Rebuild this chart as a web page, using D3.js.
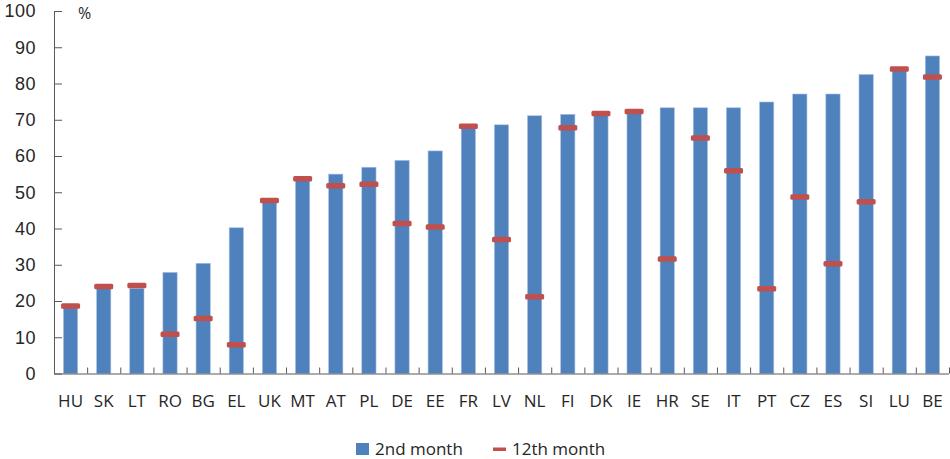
<!DOCTYPE html>
<html>
<head>
<meta charset="utf-8">
<script src="https://cdn.jsdelivr.net/npm/d3@7"></script>
<style>
  body { margin: 0; background: #fff; }
  text { font-family: "Open Sans", "Liberation Sans", Arial, sans-serif; fill: #262626; }
  text.ylab { font-family: "Liberation Sans", Arial, sans-serif; }
</style>
</head>
<body>
<svg id="chart"></svg>
<script>
// countries, sorted by 2nd month share
var countries = ["HU","SK","LT","RO","BG","EL","UK","MT","AT","PL","DE","EE","FR","LV","NL","FI","DK","IE","HR","SE","IT","PT","CZ","ES","SI","LU","BE"]
var month2  = [18.5,23.5,23.5,27.9,30.4,40.2,47.2,53.2,55.0,56.9,58.8,61.4,67.6,68.6,71.1,71.5,71.4,72.0,73.3,73.3,73.3,74.9,77.1,77.1,82.5,83.6,87.6]
var month12 = [18.6,24.0,24.3,10.8,15.2,7.9,47.7,53.7,51.8,52.2,41.4,40.4,68.2,37.0,21.2,67.8,71.7,72.3,31.6,65.0,55.9,23.4,48.7,30.3,47.4,84.0,81.8]
var yTicks = [0,10,20,30,40,50,60,70,80,90,100]
var legendLabels = ["2nd month", "12th month"]

var W = 950, H = 459
var margin = {top: 11, right: 1, bottom: 85.5, left: 54}
  , width = W - margin.left - margin.right
  , height = H - margin.top - margin.bottom

var svg = d3.select("#chart").attr("width", W).attr("height", H)
var g = svg.append("g").attr("transform", "translate(" + margin.left + "," + margin.top + ")")

var x = d3.scaleBand().domain(countries).range([0, width]).paddingInner(0.57).paddingOuter(0.285)
var xb = d3.scaleBand().domain(countries).range([0, width])
var y = d3.scaleLinear().domain([0, 100]).range([height, 0])

var data = countries.map(function (c, i) { return {c: c, a: month2[i], b: month12[i]} })

// bars
g.selectAll(".bar").data(data).enter().append("rect")
  .attr("class", "bar")
  .attr("x", function (d) { return x(d.c) })
  .attr("y", function (d) { return y(d.a) })
  .attr("width", x.bandwidth())
  .attr("height", function (d) { return height - y(d.a) })
  .attr("fill", "#4f81bd")
  .attr("stroke", "#a9c1e0")
  .attr("stroke-width", 0.6)

// 12th month markers
g.selectAll(".mark").data(data).enter().append("rect")
  .attr("class", "mark")
  .attr("x", function (d) { return xb(d.c) + xb.bandwidth() / 2 - 9.5 })
  .attr("y", function (d) { return y(d.b) - 2.75 })
  .attr("width", 19).attr("height", 5.5)
  .attr("rx", 1.5)
  .attr("fill", "#c0504d")

// axes
var yAxis = g.append("g")
  .call(d3.axisRight(y).tickValues(yTicks).tickSize(8).tickFormat(""))
yAxis.select(".domain").remove()
yAxis.selectAll("line").attr("stroke", "#595959")
g.append("line").attr("x1", 0.5).attr("x2", 0.5).attr("y1", 0).attr("y2", height)
  .attr("stroke", "#595959")

g.selectAll(".ylab").data(yTicks).enter().append("text")
  .attr("class", "ylab")
  .attr("x", -18).attr("y", function (d) { return y(d) })
  .attr("dy", "0.36em")
  .attr("text-anchor", "end")
  .style("font-size", "18px")
  .style("letter-spacing", "0.5px")
  .text(function (d) { return d })

g.selectAll(".xtick").data(countries).enter().append("line")
  .attr("x1", function (d) { return xb(d) + xb.bandwidth() + 0.5 })
  .attr("x2", function (d) { return xb(d) + xb.bandwidth() + 0.5 })
  .attr("y1", height - 6).attr("y2", height)
  .attr("stroke", "#595959")
g.append("line").attr("x1", 0).attr("x2", width).attr("y1", height + 0.5).attr("y2", height + 0.5)
  .attr("stroke", "#595959")

g.selectAll(".xlab").data(countries).enter().append("text")
  .attr("x", function (d) { return xb(d) + xb.bandwidth() / 2 })
  .attr("y", height + 33)
  .attr("text-anchor", "middle")
  .style("font-size", "17px")
  .text(function (d) { return d })

svg.append("text").attr("x", 78).attr("y", 18.5).style("font-size", "16px").text("%")

// legend
var lg = svg.append("g").attr("transform", "translate(356,443)")
lg.append("rect").attr("x", 0).attr("y", 0).attr("width", 13).attr("height", 12).attr("fill", "#4f81bd")
lg.append("text").attr("x", 19).attr("y", 12).style("font-size", "17px").text(legendLabels[0])
lg.append("rect").attr("x", 137).attr("y", 4.5).attr("width", 13).attr("height", 3.5).attr("fill", "#c0504d")
lg.append("text").attr("x", 156).attr("y", 12).style("font-size", "17px").text(legendLabels[1])
</script>
</body>
</html>
